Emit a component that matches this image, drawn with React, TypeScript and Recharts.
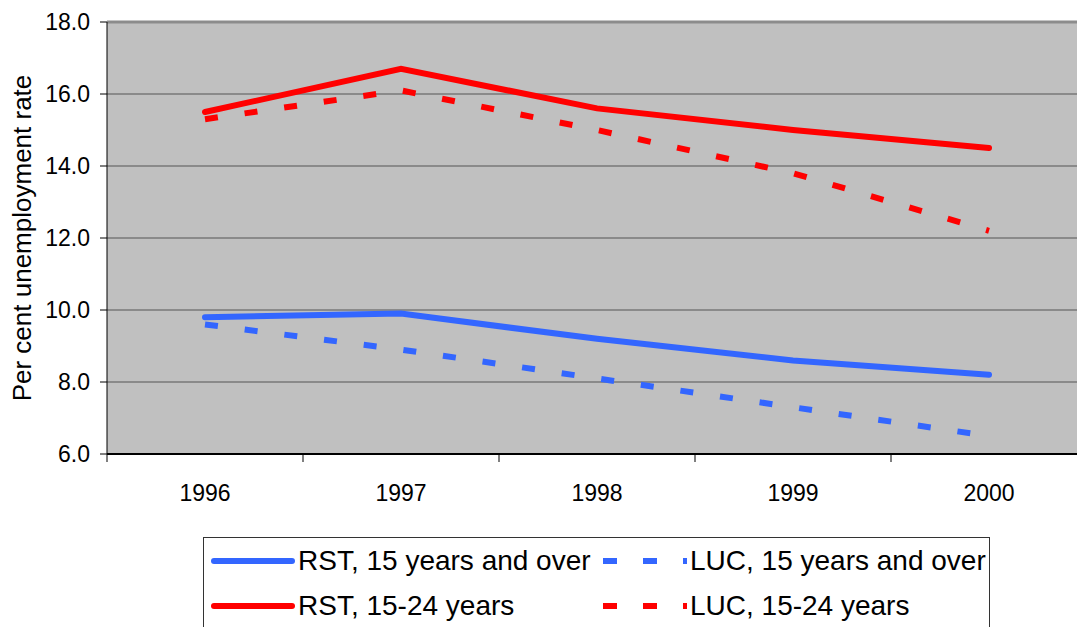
import React from "react";
import {
  LineChart,
  Line,
  XAxis,
  YAxis,
  CartesianGrid,
  ReferenceLine,
} from "recharts";

const years = ["1996", "1997", "1998", "1999", "2000"];
const rst15Over = [9.8, 9.9, 9.2, 8.6, 8.2];
const luc15Over = [9.6, 8.9, 8.1, 7.3, 6.5];
const rst1524 = [15.5, 16.7, 15.6, 15.0, 14.5];
const luc1524 = [15.3, 16.1, 15.0, 13.8, 12.2];
const yTicks = [6, 8, 10, 12, 14, 16, 18];

const BLUE = "#3366ff";
const RED = "#ff0000";
const FONT = "'Liberation Sans', Arial, sans-serif";
const HALF_BAND = 98;

const data = years.map((year, i) => ({
  year,
  rst15Over: rst15Over[i],
  luc15Over: luc15Over[i],
  rst1524: rst1524[i],
  luc1524: luc1524[i],
}));

const legendItems = [
  { name: "RST, 15 years and over", color: BLUE, dashed: false },
  { name: "LUC, 15 years and over", color: BLUE, dashed: true },
  { name: "RST, 15-24 years", color: RED, dashed: false },
  { name: "LUC, 15-24 years", color: RED, dashed: true },
];

function YearTick(props: any) {
  const { x, y, payload, index } = props;
  return (
    <g>
      <line x1={x - HALF_BAND} y1={y - 8} x2={x - HALF_BAND} y2={y} stroke="#000" />
      {index === years.length - 1 && (
        <line x1={x + HALF_BAND} y1={y - 8} x2={x + HALF_BAND} y2={y} stroke="#000" />
      )}
      <text
        x={x}
        y={y + 39}
        textAnchor="middle"
        fontSize={23}
        fontFamily={FONT}
        fill="#000"
      >
        {payload.value}
      </text>
    </g>
  );
}

function ChartLegend() {
  return (
    <div
      style={{
        position: "absolute",
        left: 203,
        top: 537,
        width: 787,
        height: 100,
        border: "1px solid #333",
        boxSizing: "border-box",
        background: "#fff",
        fontFamily: FONT,
        fontSize: 28,
        color: "#000",
      }}
    >
      {legendItems.map((item, i) => {
        const col = i % 2;
        const row = Math.floor(i / 2);
        return (
          <div
            key={item.name}
            style={{
              position: "absolute",
              left: col === 0 ? 6 : 398,
              top: 6 + row * 45,
              height: 34,
              display: "flex",
              alignItems: "center",
              whiteSpace: "nowrap",
            }}
          >
            <svg width={86} height={12} style={{ marginRight: 2 }}>
              <line
                x1={item.dashed ? 1 : 4}
                y1={6}
                x2={item.dashed ? 85 : 82}
                y2={6}
                stroke={item.color}
                strokeWidth={6}
                strokeLinecap={item.dashed ? "butt" : "round"}
                strokeDasharray={item.dashed ? "14 26" : undefined}
              />
            </svg>
            <span>{item.name}</span>
          </div>
        );
      })}
    </div>
  );
}

export default function App() {
  return (
    <div
      style={{
        position: "absolute",
        left: 0,
        top: 0,
        width: 1077,
        height: 627,
        overflow: "hidden",
        background: "#fff",
      }}
    >
      <LineChart
        width={1100}
        height={627}
        data={data}
        margin={{ top: 22, right: 13, left: 0, bottom: 143 }}
      >
        <CartesianGrid
          vertical={false}
          stroke="#555"
          fill="#c0c0c0"
          fillOpacity={1}
        />
        <ReferenceLine y={18} stroke="#8c8c8c" strokeWidth={3} />
        <XAxis
          dataKey="year"
          height={30}
          padding={{ left: HALF_BAND, right: HALF_BAND }}
          axisLine={{ stroke: "#000", strokeWidth: 2 }}
          tickLine={false}
          tickSize={8}
          tickMargin={0}
          tick={<YearTick />}
          interval={0}
        />
        <YAxis
          width={107}
          domain={[6, 18]}
          ticks={yTicks}
          interval={0}
          allowDataOverflow
          tickFormatter={(v: number) => v.toFixed(1)}
          axisLine={{ stroke: "#000" }}
          tickLine={{ stroke: "#000" }}
          tickSize={7}
          tickMargin={10}
          tick={{ fontSize: 23, fontFamily: FONT, fill: "#000" }}
          label={{
            value: "Per cent unemployment rate",
            angle: -90,
            position: "insideLeft",
            offset: 22,
            style: {
              fontSize: 26,
              fontFamily: FONT,
              fill: "#000",
              textAnchor: "middle",
            },
          }}
        />
        <Line
          dataKey="rst15Over"
          stroke={BLUE}
          strokeWidth={6}
          strokeLinecap="round"
          dot={false}
          activeDot={false}
          isAnimationActive={false}
        />
        <Line
          dataKey="luc15Over"
          stroke={BLUE}
          strokeWidth={6}
          strokeDasharray="13 27"
          dot={false}
          activeDot={false}
          isAnimationActive={false}
        />
        <Line
          dataKey="rst1524"
          stroke={RED}
          strokeWidth={6}
          strokeLinecap="round"
          dot={false}
          activeDot={false}
          isAnimationActive={false}
        />
        <Line
          dataKey="luc1524"
          stroke={RED}
          strokeWidth={6}
          strokeDasharray="13 27"
          dot={false}
          activeDot={false}
          isAnimationActive={false}
        />
      </LineChart>
      <ChartLegend />
    </div>
  );
}
